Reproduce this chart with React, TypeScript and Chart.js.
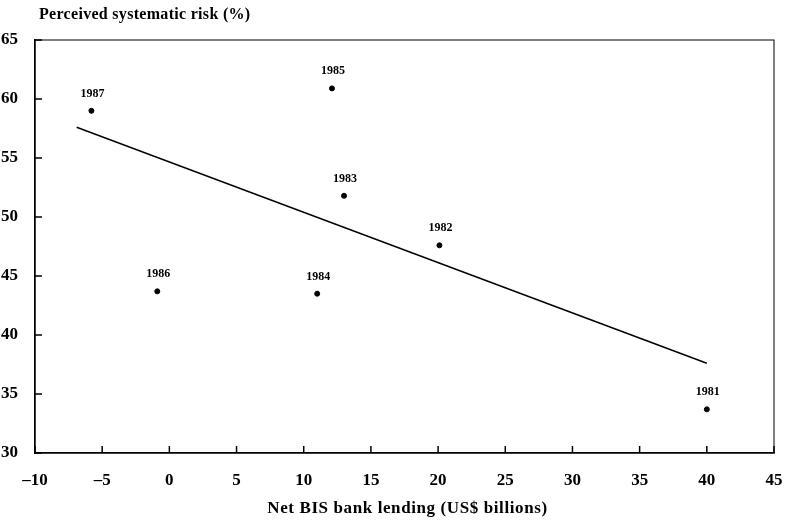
import React, { useEffect, useRef } from "react";
import { Chart, registerables } from "chart.js";

Chart.register(...registerables);

const years = ["1981", "1982", "1983", "1984", "1985", "1986", "1987"];
const lending = [40.0, 20.1, 13.0, 11.0, 12.1, -0.9, -5.8];
const risk = [33.7, 47.6, 51.8, 43.5, 60.9, 43.7, 59.0];
const fitX = [-6.9, 40.0];
const fitY = [57.6, 37.6];
const xTickValues = [-10, -5, 0, 5, 10, 15, 20, 25, 30, 35, 40, 45];
const yTickValues = [30, 35, 40, 45, 50, 55, 60, 65];
const yTitle = "Perceived systematic risk (%)";
const xTitle = "Net BIS bank lending (US$ billions)";

const FONT = "'Liberation Serif', 'DejaVu Serif', serif";

const decorPlugin = {
  id: "decor",
  afterDraw(chart: any) {
    const { ctx, chartArea } = chart;
    const { left, top, right, bottom } = chartArea;
    const xs = chart.scales.x;
    const ys = chart.scales.y;
    ctx.save();
    ctx.strokeStyle = "#000";
    ctx.lineWidth = 1;
    ctx.strokeRect(left, top, right - left, bottom - top);
    ctx.lineWidth = 1.5;
    ctx.beginPath();
    xTickValues.forEach((v) => {
      const px = xs.getPixelForValue(v);
      ctx.moveTo(px, bottom);
      ctx.lineTo(px, bottom - 7);
    });
    yTickValues.forEach((v) => {
      const py = ys.getPixelForValue(v);
      ctx.moveTo(left, py);
      ctx.lineTo(left + 7, py);
    });
    ctx.stroke();

    // year labels
    const meta = chart.getDatasetMeta(0);
    ctx.fillStyle = "#000";
    ctx.font = "bold 12px " + FONT;
    ctx.textAlign = "center";
    ctx.textBaseline = "middle";
    meta.data.forEach((el: any, i: number) => {
      ctx.fillText(years[i], el.x + 1, el.y - 17);
    });

    // titles
    ctx.font = "bold 16px " + FONT;
    (ctx as any).letterSpacing = "0.3px";
    ctx.textAlign = "left";
    ctx.fillText(yTitle, 39, 15);
    ctx.font = "bold 17px " + FONT;
    (ctx as any).letterSpacing = "0.6px";
    ctx.textAlign = "center";
    ctx.fillText(xTitle, (left + right) / 2 + 3, 509);
    ctx.restore();
  },
};

export default function App() {
  const ref = useRef<HTMLCanvasElement | null>(null);
  useEffect(() => {
    if (!ref.current) return;
    const chart = new Chart(ref.current, {
      type: "scatter",
      data: {
        datasets: [
          {
            data: lending.map((x, i) => ({ x, y: risk[i] })),
            backgroundColor: "#000",
            borderColor: "#000",
            pointRadius: 2.5,
            pointHoverRadius: 2.5,
          },
          {
            data: fitX.map((x, i) => ({ x, y: fitY[i] })),
            showLine: true,
            borderColor: "#000",
            borderWidth: 1.5,
            pointRadius: 0,
            pointHoverRadius: 0,
          } as any,
        ],
      },
      options: {
        responsive: false,
        animation: false,
        events: [],
        layout: { padding: { left: 0, top: 40, right: 12, bottom: 0 } },
        plugins: {
          legend: { display: false },
          tooltip: { enabled: false },
          title: { display: false },
        },
        scales: {
          x: {
            type: "linear",
            min: -10,
            max: 45,
            grid: { display: false },
            border: { display: true, color: "#000", width: 1.5 },
            afterFit: (s: any) => {
              s.height = 72;
              s.paddingRight = 0;
              s.paddingLeft = 0;
            },
            ticks: {
              stepSize: 5,
              padding: 9,
              color: "#000",
              font: { family: FONT, size: 17, weight: "bold" },
              callback: (v: any) => String(v).replace("-", "\u2013"),
            },
          },
          y: {
            type: "linear",
            min: 30,
            max: 65,
            grid: { display: false },
            border: { display: true, color: "#000", width: 1.5 },
            afterFit: (s: any) => {
              s.width = 35;
              s.paddingTop = 0;
              s.paddingBottom = 0;
            },
            ticks: {
              stepSize: 5,
              padding: 9,
              color: "#000",
              font: { family: FONT, size: 17, weight: "bold" },
            },
          },
        },
      },
      plugins: [decorPlugin],
    });
    return () => chart.destroy();
  }, []);
  return (
    <div style={{ position: "absolute", left: 0, top: 0, width: 786, height: 525, background: "#fff" }}>
      <canvas ref={ref} width={786} height={525} />
    </div>
  );
}
